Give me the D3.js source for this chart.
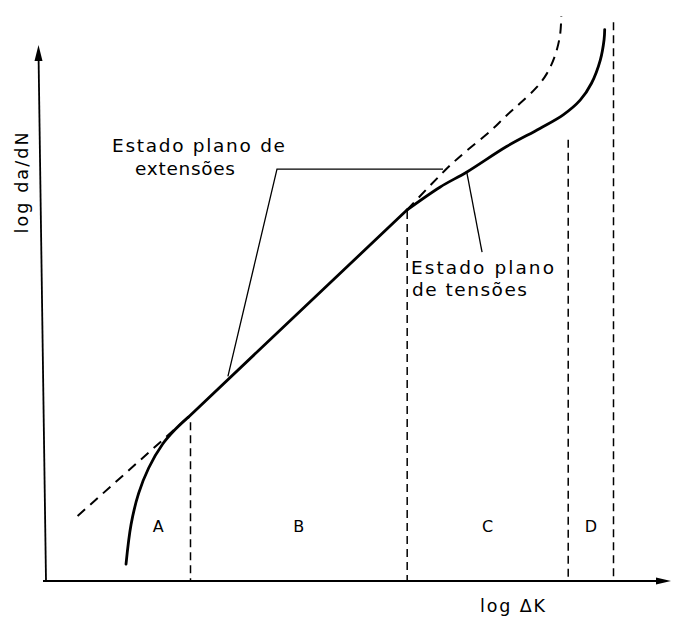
<!DOCTYPE html>
<html>
<head>
<meta charset="utf-8">
<script src="https://cdn.jsdelivr.net/npm/d3@7"></script>
<style>
  html, body { margin: 0; background: #fff; }
  svg { display: block; }
  text { font-family: "DejaVu Sans", "Noto Sans", sans-serif; fill: #000; }
</style>
</head>
<body>
<svg id="chart" width="677" height="617"></svg>
<script>
// Schematic fatigue crack growth curve: log da/dN against log ΔK.
// Units are arbitrary (schematic), 0–10 on both axes.

const regionNames = ["A", "B", "C", "D"];
// Regime boundaries on the log ΔK axis and the height at which each dashed boundary starts
const boundaryX   = [2.345, 5.79, 8.35, 9.07];
const boundaryTop = [2.81, 6.55, 7.81, 9.89];

// Solid curve (plane stress): threshold knee, Paris line, then acceleration to fracture
const thresholdKnee = [[1.32, 0.30], [1.40, 1.00], [1.52, 1.55], [1.68, 2.00], [1.90, 2.42], [2.10, 2.68], [2.31, 2.90]];
const parisLine     = [[2.31, 2.90], [5.79, 6.57]];
const planeStress   = [[5.79, 6.57], [6.31, 6.97], [6.74, 7.24], [7.37, 7.69], [7.90, 8.01], [8.27, 8.25],
                       [8.54, 8.51], [8.72, 8.81], [8.86, 9.22], [8.92, 9.58], [8.93, 9.76]];

// Dashed curve (plane strain): straight extension below the knee and earlier upturn
const planeStrainLow  = [[0.55, 1.15], [2.31, 2.90]];
const planeStrainHigh = [[5.79, 6.57], [6.42, 7.30], [6.74, 7.62], [7.11, 7.96], [7.37, 8.24], [7.58, 8.45],
                         [7.85, 8.74], [8.01, 8.98], [8.14, 9.30], [8.22, 9.66], [8.24, 10.00]];

// Leader lines for the two annotations
const strainLeader = [[2.94, 3.62], [3.72, 7.29], [6.36, 7.29]];
const stressLeader = [[6.74, 7.22], [6.98, 5.82]];

const xTitle = "log ΔK";
const yTitle = "log da/dN";
const strainLabel = ["Estado plano de", "extensões"];
const stressLabel = ["Estado plano", "de tensões"];

const svg = d3.select("#chart");

const x = d3.scaleLinear().domain([0, 10]).range([43, 672]);
const y = d3.scaleLinear().domain([0, 10]).range([581, 16]);

const smooth = d3.line().x(d => x(d[0])).y(d => y(d[1])).curve(d3.curveCatmullRom.alpha(0.5));
const straight = d3.line().x(d => x(d[0])).y(d => y(d[1]));

// Axes with filled arrowheads
const axisG = svg.append("g").attr("stroke", "#000").attr("fill", "none");
axisG.append("line")
  .attr("x1", x(0)).attr("y1", y(0))
  .attr("x2", 665).attr("y2", y(0))
  .attr("stroke-width", 1.8);
axisG.append("line")
  .attr("x1", x(0) + 3).attr("y1", y(0))
  .attr("x2", x(0) - 4.5).attr("y2", 52)
  .attr("stroke-width", 1.8);
svg.append("path")
  .attr("d", `M671,${y(0)} L656,${y(0) - 3.5} L656,${y(0) + 3.5} Z`)
  .attr("fill", "#000");
svg.append("path")
  .attr("d", `M38.5,45 L34.5,61 L42.5,61 Z`)
  .attr("fill", "#000");

// Regime boundaries
svg.append("g")
  .selectAll("line")
  .data(boundaryX)
  .join("line")
  .attr("x1", d => x(d)).attr("x2", d => x(d))
  .attr("y1", (d, i) => y(boundaryTop[i]))
  .attr("y2", y(0))
  .attr("stroke", "#000")
  .attr("stroke-width", 1.5)
  .attr("stroke-dasharray", "8,5");

// Plane-strain (dashed) curve
const dashedG = svg.append("g")
  .attr("fill", "none").attr("stroke", "#000")
  .attr("stroke-width", 2).attr("stroke-dasharray", "10,7");
dashedG.append("path").attr("d", straight(planeStrainLow));
dashedG.append("path").attr("d", smooth(planeStrainHigh));

// Plane-stress (solid) curve
const solidG = svg.append("g")
  .attr("fill", "none").attr("stroke", "#000")
  .attr("stroke-width", 2.8).attr("stroke-linecap", "round").attr("stroke-linejoin", "round");
solidG.append("path").attr("d", smooth(thresholdKnee));
solidG.append("path").attr("d", straight(parisLine));
solidG.append("path").attr("d", smooth(planeStress));

// Leader lines
const leaderG = svg.append("g").attr("fill", "none").attr("stroke", "#000").attr("stroke-width", 1.3);
leaderG.append("path").attr("d", straight(strainLeader));
leaderG.append("path").attr("d", straight(stressLeader));

// Regime letters, centred in each band
const bandEdges = [thresholdKnee[0][0], ...boundaryX];
svg.append("g")
  .selectAll("text")
  .data(regionNames)
  .join("text")
  .attr("x", (d, i) => x((bandEdges[i] + bandEdges[i + 1]) / 2))
  .attr("y", y(0.97) + 6)
  .attr("text-anchor", "middle")
  .attr("font-size", 16)
  .text(d => d);

// Annotation texts
function label(lines, x0s, baselines, widths) {
  lines.forEach((t, i) => {
    svg.append("text")
      .attr("x", x0s[i]).attr("y", baselines[i])
      .attr("font-size", 18.5)
      .attr("textLength", widths[i]).attr("lengthAdjust", "spacing")
      .text(t);
  });
}
label(strainLabel, [112, 135], [152, 175], [173, 100]);
label(stressLabel, [411, 412], [274, 296], [143, 115]);

// Axis titles
svg.append("text")
  .attr("x", 480).attr("y", 612)
  .attr("font-size", 17.5)
  .attr("textLength", 65).attr("lengthAdjust", "spacing")
  .text(xTitle);
svg.append("text")
  .attr("transform", "translate(28,183) rotate(-90)")
  .attr("text-anchor", "middle")
  .attr("font-size", 17.5)
  .attr("textLength", 101).attr("lengthAdjust", "spacing")
  .text(yTitle);
</script>
</body>
</html>
